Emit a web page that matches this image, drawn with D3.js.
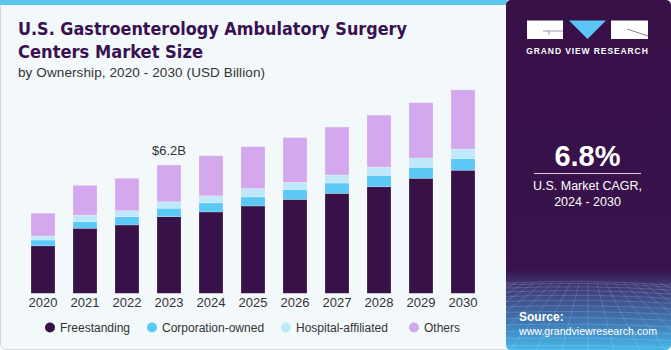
<!DOCTYPE html>
<html>
<head>
<meta charset="utf-8">
<script src="https://cdn.jsdelivr.net/npm/d3@7"></script>
<style>
  body { margin: 0; background: #ffffff; }
  svg text { font-family: "Liberation Sans", Arial, sans-serif; }
</style>
</head>
<body>
<div id="chart"></div>
<script>
// data (USD Billion)
const years = ["2020","2021","2022","2023","2024","2025","2026","2027","2028","2029","2030"];
const freestanding = [2.30, 3.15, 3.31, 3.71, 3.94, 4.23, 4.55, 4.84, 5.16, 5.57, 5.96];
const corporationOwned = [0.28, 0.32, 0.40, 0.41, 0.44, 0.44, 0.48, 0.50, 0.55, 0.53, 0.56];
const hospitalAffiliated = [0.19, 0.32, 0.29, 0.31, 0.34, 0.40, 0.35, 0.39, 0.40, 0.45, 0.47];
const others = [1.11, 1.44, 1.57, 1.78, 1.94, 2.03, 2.16, 2.32, 2.52, 2.68, 2.86];
const seriesNames = ["Freestanding", "Corporation-owned", "Hospital-affiliated", "Others"];
const seriesColors = ["#371147", "#5bc9f6", "#bfe9fa", "#d4a8ec"];
const calloutYear = "2023", calloutText = "$6.2B";

const W = 671, H = 350;
const svg = d3.select("#chart").append("svg")
    .attr("width", W).attr("height", H);

// card background
svg.append("rect")
    .attr("x", 0.5).attr("y", 0.5).attr("width", 520).attr("height", H - 1)
    .attr("rx", 5)
    .attr("fill", "#f3f8fb").attr("stroke", "#d6d9dc");
svg.append("rect")
    .attr("x", 0).attr("y", 0).attr("width", 507).attr("height", 5)
    .attr("fill", "#5cc6ef");

// title
svg.append("text")
    .attr("x", 18).attr("y", 35)
    .attr("fill", "#3a1150")
    .attr("textLength", 389).attr("lengthAdjust", "spacingAndGlyphs")
    .style("font-family", "'DejaVu Sans', sans-serif")
    .style("font-size", "17px").style("font-weight", "bold")
    .text("U.S. Gastroenterology Ambulatory Surgery");
svg.append("text")
    .attr("x", 18).attr("y", 58)
    .attr("fill", "#3a1150")
    .attr("textLength", 185).attr("lengthAdjust", "spacingAndGlyphs")
    .style("font-family", "'DejaVu Sans', sans-serif")
    .style("font-size", "17px").style("font-weight", "bold")
    .text("Centers Market Size");
svg.append("text")
    .attr("x", 18).attr("y", 77)
    .attr("fill", "#333")
    .attr("textLength", 247)
    .style("font-size", "13.5px")
    .text("by Ownership, 2020 - 2030 (USD Billion)");

// build stack table
const table = years.map((y, i) => ({
    year: y,
    "Freestanding": freestanding[i],
    "Corporation-owned": corporationOwned[i],
    "Hospital-affiliated": hospitalAffiliated[i],
    "Others": others[i]
}));
const stacked = d3.stack().keys(seriesNames)(table);

const x = d3.scaleBand()
    .domain(years)
    .range([22, 484])
    .paddingInner(0.4286)
    .paddingOuter(0.2143);
const y = d3.scaleLinear()
    .domain([0, 10])
    .range([293.3, 86.8]);
const color = d3.scaleOrdinal().domain(seriesNames).range(seriesColors);

svg.append("g")
    .selectAll("g")
    .data(stacked)
    .join("g")
    .attr("fill", d => color(d.key))
    .selectAll("rect")
    .data(d => d)
    .join("rect")
    .attr("x", d => x(d.data.year))
    .attr("y", d => y(d[1]))
    .attr("width", x.bandwidth())
    .attr("height", d => y(d[0]) - y(d[1]))
    .attr("stroke", "#ffffff")
    .attr("stroke-opacity", 0.35)
    .attr("stroke-width", 0.6);

// x axis labels
const xAxis = svg.append("g")
    .attr("transform", "translate(0,293.3)")
    .call(d3.axisBottom(x).tickSize(0).tickPadding(4));
xAxis.select(".domain").remove();
xAxis.selectAll("text")
    .style("font-family", "'Liberation Sans', Arial, sans-serif")
    .style("font-size", "13px")
    .attr("fill", "#333");

// callout above 2023
const idx = years.indexOf(calloutYear);
const total = freestanding[idx] + corporationOwned[idx] + hospitalAffiliated[idx] + others[idx];
svg.append("text")
    .attr("x", x(calloutYear) + x.bandwidth() / 2)
    .attr("y", y(total) - 10)
    .attr("text-anchor", "middle")
    .attr("fill", "#333")
    .style("font-size", "13px")
    .text(calloutText);

// legend
const legendX = [50, 152, 286, 414];
const legend = svg.append("g").selectAll("g")
    .data(seriesNames)
    .join("g")
    .attr("transform", (d, i) => `translate(${legendX[i]},327.5)`);
legend.append("circle").attr("r", 5).attr("fill", d => color(d));
legend.append("text")
    .attr("x", 10).attr("dy", "0.35em")
    .attr("fill", "#333")
    .style("font-size", "12px")
    .text(d => d);

// right panel
const defs = svg.append("defs");
const grad = defs.append("linearGradient")
    .attr("id", "panelGrad").attr("x1", 0).attr("y1", 0).attr("x2", 0).attr("y2", 1);
grad.append("stop").attr("offset", "0%").attr("stop-color", "#371048");
grad.append("stop").attr("offset", "77%").attr("stop-color", "#38124b");
grad.append("stop").attr("offset", "81%").attr("stop-color", "#3e3470");
grad.append("stop").attr("offset", "92%").attr("stop-color", "#3f78b4");
grad.append("stop").attr("offset", "100%").attr("stop-color", "#47b8ea");
defs.append("clipPath").attr("id", "panelClip")
    .append("rect").attr("x", 506).attr("y", 0).attr("width", 165).attr("height", H).attr("rx", 5);

const panel = svg.append("g").attr("clip-path", "url(#panelClip)");
panel.append("rect")
    .attr("x", 506).attr("y", 0).attr("width", 165).attr("height", H)
    .attr("fill", "url(#panelGrad)");

// perspective grid at the bottom of panel
const grid = panel.append("g").attr("stroke", "#ffffff").attr("stroke-opacity", 0.22).attr("stroke-width", 0.7).attr("fill", "none");
const horizonY = 283;
d3.range(0, 14).forEach(k => {
    const gy = horizonY + Math.pow(k / 13, 1.4) * 70;
    grid.append("path").attr("d", `M506,${gy} Q588,${gy - 4 + k * 0.2} 671,${gy + 2}`);
});
d3.range(-12, 13).forEach(k => {
    grid.append("line")
        .attr("x1", 588 + k * 9).attr("y1", horizonY)
        .attr("x2", 588 + k * 26).attr("y2", H);
});

// logo
svg.append("rect").attr("x", 527).attr("y", 20.5).attr("width", 36).attr("height", 18.5).attr("fill", "#ffffff");
svg.append("path").attr("d", "M543,31 L563,31 M549,31 L549,35").attr("stroke", "#8a7a99").attr("stroke-width", 0.8);
svg.append("path").attr("d", "M569,20.5 L606,20.5 L587.5,39 Z").attr("fill", "#5bc6f3");
svg.append("rect").attr("x", 611).attr("y", 20.5).attr("width", 37).attr("height", 18.5).attr("fill", "#ffffff");
svg.append("path").attr("d", "M627,29 L648,36").attr("stroke", "#6b5a80").attr("stroke-width", 0.8);
svg.append("text")
    .attr("x", 587.5).attr("y", 54)
    .attr("text-anchor", "middle").attr("fill", "#ffffff")
    .style("font-size", "8.5px").style("font-weight", "bold").style("letter-spacing", "0.9px")
    .text("GRAND VIEW RESEARCH");

// CAGR
svg.append("text")
    .attr("x", 587.5).attr("y", 166)
    .attr("text-anchor", "middle").attr("fill", "#ffffff")
    .style("font-size", "29px").style("font-weight", "bold")
    .text("6.8%");
svg.append("line")
    .attr("x1", 534).attr("x2", 641).attr("y1", 173.5).attr("y2", 173.5)
    .attr("stroke", "#d8cfe0").attr("stroke-width", 1);
svg.append("text")
    .attr("x", 587.5).attr("y", 190)
    .attr("text-anchor", "middle").attr("fill", "#ffffff")
    .style("font-size", "12.5px")
    .text("U.S. Market CAGR,");
svg.append("text")
    .attr("x", 587.5).attr("y", 206)
    .attr("text-anchor", "middle").attr("fill", "#ffffff")
    .style("font-size", "12.5px")
    .text("2024 - 2030");

// source
svg.append("text")
    .attr("x", 519).attr("y", 321)
    .attr("fill", "#ffffff")
    .style("font-size", "12px").style("font-weight", "bold")
    .text("Source:");
svg.append("text")
    .attr("x", 519).attr("y", 335)
    .attr("fill", "#ffffff")
    .attr("textLength", 138).attr("lengthAdjust", "spacingAndGlyphs")
    .style("font-size", "11.5px")
    .text("www.grandviewresearch.com");
</script>
</body>
</html>
